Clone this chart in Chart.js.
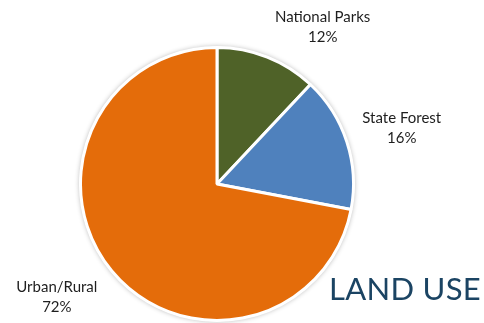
<!DOCTYPE html>
<html>
<head>
<meta charset="utf-8">
<script src="https://cdn.jsdelivr.net/npm/chart.js@4/dist/chart.umd.min.js"></script>
<style>
  html, body { margin: 0; padding: 0; background: #fff; }
  #wrap { position: relative; width: 484px; height: 323px; }
  #title {
    position: absolute; left: 329px; top: 269px;
    font-family: Lato, "Open Sans", sans-serif; font-size: 31px;
    color: #1b4463; letter-spacing: 0.3px; white-space: nowrap;
  }
</style>
</head>
<body>
<div id="wrap">
  <canvas id="landChart" width="484" height="323"></canvas>
  <div id="title">LAND USE</div>
</div>
<script>
// 土地利用比例
const categories = ["National Parks", "State Forest", "Urban/Rural"];
const shares = [12, 16, 72];
const sliceColors = ["#4f6228", "#4f81bd", "#e46c0a"];

// 標籤離圓心的距離與角度微調
const labelDist = [189, 193, 196];
const labelTurn = [12.4, 1.2, 4.4];

// 圓餅外圈的淡淡陰影
const shadowPlugin = {
  id: "pieShadow",
  beforeDatasetsDraw(chart) {
    const arc = chart.getDatasetMeta(0).data[0];
    if (!arc) return;
    const ctx = chart.ctx;
    ctx.save();
    ctx.shadowColor = "rgba(0,0,0,0.3)";
    ctx.shadowBlur = 5;
    ctx.fillStyle = "#fff";
    ctx.beginPath();
    ctx.arc(arc.x, arc.y, arc.outerRadius + 1, 0, Math.PI * 2);
    ctx.fill();
    ctx.restore();
  }
};

// 在圓餅外面寫上名稱和百分比
const outsideLabels = {
  id: "outsideLabels",
  afterDatasetsDraw(chart) {
    const ctx = chart.ctx;
    ctx.save();
    ctx.font = "15px Lato, 'Open Sans', sans-serif";
    ctx.fillStyle = "#1e1e1e";
    ctx.textAlign = "center";
    ctx.textBaseline = "middle";
    chart.getDatasetMeta(0).data.forEach((arc, i) => {
      const mid = (arc.startAngle + arc.endAngle) / 2 + labelTurn[i] * Math.PI / 180;
      const x = arc.x + Math.cos(mid) * labelDist[i];
      const y = arc.y + Math.sin(mid) * labelDist[i];
      ctx.fillText(categories[i], x, y - 10);
      ctx.fillText(shares[i] + "%", x, y + 10);
    });
    ctx.restore();
  }
};

window.onload = () => {
  const ctx = document.getElementById("landChart").getContext("2d");
  new Chart(ctx, {
    type: "pie",
    data: {
      labels: categories,
      datasets: [{
        data: shares,
        backgroundColor: sliceColors,
        borderColor: "#ffffff",
        borderWidth: 3
      }]
    },
    options: {
      responsive: false,
      animation: false,
      layout: { padding: { left: 79, right: 129, top: 46, bottom: 1 } },
      plugins: {
        legend: { display: false },
        tooltip: { enabled: false }
      }
    },
    plugins: [shadowPlugin, outsideLabels]
  });
};
</script>
</body>
</html>
